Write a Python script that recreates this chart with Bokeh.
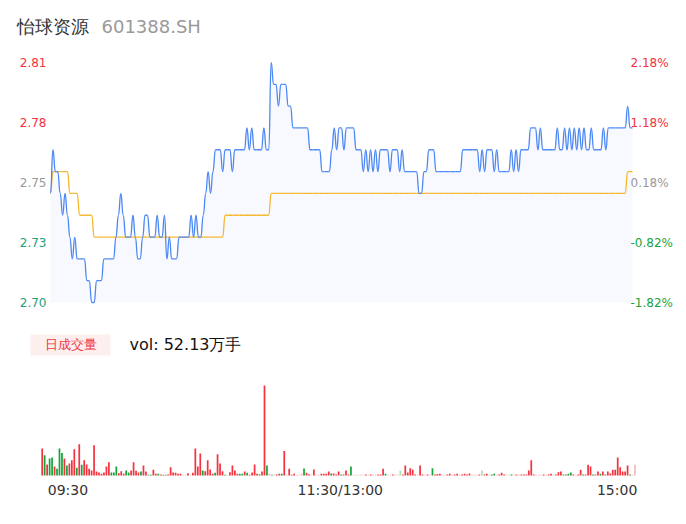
from bokeh.plotting import figure
from bokeh.layouts import column
from bokeh.models import Range1d
from bokeh.core.properties import value
from bokeh.embed import file_html
from bokeh.resources import INLINE

# ---------------- data ----------------
stock_name = "怡球资源"
stock_code = "601388.SH"
prev_close = 2.75
price_ticks = [2.70, 2.7275, 2.755, 2.7825, 2.81]
price_labels = ["2.70", "2.73", "2.75", "2.78", "2.81"]
pct_labels = ["-1.82%", "-0.82%", "0.18%", "1.18%", "2.18%"]
vol_badge = "日成交量"
vol_total_label = "vol: 52.13万手"
time_labels = ["09:30", "11:30/13:00", "15:00"]
time_label_idx = [0, 120, 240]

# minute prices 09:30 .. 15:00 (241 points)
price = [
    2.75, 2.77, 2.76, 2.76, 2.75, 2.74, 2.75, 2.74, 2.73, 2.72,
    2.73, 2.72, 2.72, 2.72, 2.72, 2.71, 2.71, 2.70, 2.70, 2.71,
    2.71, 2.71, 2.72, 2.72, 2.72, 2.72, 2.72, 2.73, 2.74, 2.75,
    2.74, 2.73, 2.73, 2.73, 2.74, 2.73, 2.72, 2.72, 2.73, 2.74,
    2.74, 2.73, 2.73, 2.73, 2.74, 2.73, 2.73, 2.74, 2.72, 2.73,
    2.72, 2.72, 2.72, 2.73, 2.73, 2.73, 2.73, 2.73, 2.74, 2.73,
    2.74, 2.73, 2.73, 2.74, 2.75, 2.76, 2.75, 2.76, 2.77, 2.77,
    2.77, 2.76, 2.77, 2.77, 2.77, 2.76, 2.77, 2.77, 2.77, 2.77,
    2.77, 2.78, 2.77, 2.78, 2.77, 2.77, 2.77, 2.77, 2.78, 2.77,
    2.77, 2.81, 2.80, 2.80, 2.79, 2.80, 2.80, 2.80, 2.79, 2.79,
    2.78, 2.78, 2.78, 2.78, 2.78, 2.78, 2.78, 2.77, 2.77, 2.77,
    2.77, 2.77, 2.76, 2.76, 2.76, 2.76, 2.77, 2.78, 2.77, 2.78,
    2.78, 2.77, 2.78, 2.78, 2.78, 2.78, 2.77, 2.77, 2.77, 2.76,
    2.77, 2.76, 2.77, 2.76, 2.77, 2.76, 2.77, 2.77, 2.77, 2.77,
    2.76, 2.77, 2.77, 2.77, 2.76, 2.77, 2.76, 2.76, 2.76, 2.76,
    2.76, 2.76, 2.75, 2.75, 2.76, 2.76, 2.77, 2.77, 2.77, 2.76,
    2.76, 2.76, 2.76, 2.76, 2.76, 2.76, 2.76, 2.76, 2.76, 2.76,
    2.77, 2.77, 2.77, 2.77, 2.77, 2.77, 2.77, 2.76, 2.77, 2.76,
    2.77, 2.77, 2.77, 2.76, 2.77, 2.76, 2.76, 2.76, 2.76, 2.76,
    2.77, 2.76, 2.77, 2.76, 2.77, 2.77, 2.77, 2.77, 2.78, 2.78,
    2.78, 2.77, 2.78, 2.77, 2.77, 2.77, 2.77, 2.77, 2.77, 2.78,
    2.77, 2.77, 2.78, 2.77, 2.78, 2.77, 2.78, 2.77, 2.78, 2.77,
    2.78, 2.77, 2.77, 2.78, 2.77, 2.77, 2.77, 2.77, 2.78, 2.77,
    2.78, 2.78, 2.78, 2.78, 2.78, 2.78, 2.78, 2.78, 2.79, 2.78,
    2.78,
]

# running average price (as displayed, 2 decimals)
avg_price = [
    2.75, 2.76, 2.76, 2.76, 2.76, 2.76, 2.76, 2.76, 2.75, 2.75,
    2.75, 2.75, 2.74, 2.74, 2.74, 2.74, 2.74, 2.74, 2.73, 2.73,
    2.73, 2.73, 2.73, 2.73, 2.73, 2.73, 2.73, 2.73, 2.73, 2.73,
    2.73, 2.73, 2.73, 2.73, 2.73, 2.73, 2.73, 2.73, 2.73, 2.73,
    2.73, 2.73, 2.73, 2.73, 2.73, 2.73, 2.73, 2.73, 2.73, 2.73,
    2.73, 2.73, 2.73, 2.73, 2.73, 2.73, 2.73, 2.73, 2.73, 2.73,
    2.73, 2.73, 2.73, 2.73, 2.73, 2.73, 2.73, 2.73, 2.73, 2.73,
    2.73, 2.73, 2.74, 2.74, 2.74, 2.74, 2.74, 2.74, 2.74, 2.74,
    2.74, 2.74, 2.74, 2.74, 2.74, 2.74, 2.74, 2.74, 2.74, 2.74,
    2.74, 2.75, 2.75, 2.75, 2.75, 2.75, 2.75, 2.75, 2.75, 2.75,
    2.75, 2.75, 2.75, 2.75, 2.75, 2.75, 2.75, 2.75, 2.75, 2.75,
    2.75, 2.75, 2.75, 2.75, 2.75, 2.75, 2.75, 2.75, 2.75, 2.75,
    2.75, 2.75, 2.75, 2.75, 2.75, 2.75, 2.75, 2.75, 2.75, 2.75,
    2.75, 2.75, 2.75, 2.75, 2.75, 2.75, 2.75, 2.75, 2.75, 2.75,
    2.75, 2.75, 2.75, 2.75, 2.75, 2.75, 2.75, 2.75, 2.75, 2.75,
    2.75, 2.75, 2.75, 2.75, 2.75, 2.75, 2.75, 2.75, 2.75, 2.75,
    2.75, 2.75, 2.75, 2.75, 2.75, 2.75, 2.75, 2.75, 2.75, 2.75,
    2.75, 2.75, 2.75, 2.75, 2.75, 2.75, 2.75, 2.75, 2.75, 2.75,
    2.75, 2.75, 2.75, 2.75, 2.75, 2.75, 2.75, 2.75, 2.75, 2.75,
    2.75, 2.75, 2.75, 2.75, 2.75, 2.75, 2.75, 2.75, 2.75, 2.75,
    2.75, 2.75, 2.75, 2.75, 2.75, 2.75, 2.75, 2.75, 2.75, 2.75,
    2.75, 2.75, 2.75, 2.75, 2.75, 2.75, 2.75, 2.75, 2.75, 2.75,
    2.75, 2.75, 2.75, 2.75, 2.75, 2.75, 2.75, 2.75, 2.75, 2.75,
    2.75, 2.75, 2.75, 2.75, 2.75, 2.75, 2.75, 2.75, 2.76, 2.76,
    2.76,
]

# minute volume (百手)
volume = [
    107, 80, 44, 67, 71, 36, 27, 107, 89, 67,
    40, 47, 60, 104, 31, 124, 43, 60, 44, 27,
    20, 120, 16, 12, 7, 12, 36, 52, 12, 12,
    36, 9, 17, 7, 20, 12, 20, 52, 19, 12,
    16, 40, 16, 3, 3, 23, 7, 7, 4, 3,
    3, 4, 33, 12, 11, 7, 7, 3, 3, 9,
    3, 11, 107, 36, 87, 20, 17, 60, 24, 7,
    11, 84, 47, 17, 3, 3, 13, 40, 20, 7,
    7, 7, 16, 11, 3, 12, 44, 7, 5, 16,
    356, 40, 8, 3, 5, 4, 7, 7, 97, 3,
    27, 3, 7, 3, 3, 8, 28, 11, 5, 3,
    24, 3, 3, 7, 7, 7, 16, 8, 8, 4,
    16, 4, 4, 20, 4, 36, 3, 3, 3, 3,
    3, 4, 3, 4, 3, 3, 4, 4, 27, 7,
    3, 3, 4, 3, 3, 20, 4, 40, 12, 29,
    23, 4, 3, 40, 4, 3, 4, 3, 29, 4,
    6, 7, 3, 3, 4, 7, 3, 4, 7, 3,
    4, 7, 4, 8, 3, 3, 3, 4, 20, 4,
    7, 3, 4, 7, 3, 4, 11, 4, 3, 3,
    4, 3, 4, 3, 4, 4, 4, 20, 60, 4,
    3, 3, 3, 4, 3, 4, 7, 3, 4, 13,
    16, 4, 4, 7, 12, 4, 3, 4, 23, 4,
    4, 43, 36, 4, 4, 16, 7, 16, 4, 16,
    8, 23, 23, 71, 33, 16, 16, 40, 4, 3,
    43,
]

# bar colour class: r = up, g = down, lr / lg = light red / light green
vol_dir = [
    "r", "g", "r", "g", "g", "r", "g", "g", "g", "r",
    "g", "r", "r", "r", "g", "r", "g", "r", "r", "r",
    "r", "r", "r", "r", "r", "r", "r", "r", "g", "g",
    "g", "r", "r", "r", "g", "g", "r", "r", "r", "r",
    "g", "r", "r", "g", "g", "r", "r", "g", "r", "g",
    "r", "r", "r", "r", "r", "r", "r", "lr", "lr", "r",
    "lr", "r", "r", "r", "r", "g", "r", "r", "r", "r",
    "g", "r", "r", "r", "g", "lr", "r", "r", "r", "r",
    "g", "g", "r", "g", "r", "r", "r", "r", "g", "r",
    "r", "g", "lr", "g", "lr", "r", "r", "g", "r", "lr",
    "r", "r", "r", "lr", "lr", "lr", "g", "r", "r", "lr",
    "r", "lr", "lr", "r", "r", "r", "r", "g", "r", "r",
    "r", "g", "r", "r", "r", "g", "lr", "lr", "lg", "lr",
    "lr", "r", "lr", "r", "lr", "lr", "r", "r", "r", "g",
    "lr", "lr", "r", "lr", "lr", "lg", "r", "r", "r", "r",
    "r", "r", "lr", "r", "r", "lr", "r", "lr", "g", "r",
    "r", "r", "lr", "lr", "r", "r", "lr", "r", "r", "lr",
    "r", "r", "r", "r", "lr", "lr", "lr", "r", "lg", "r",
    "r", "lr", "g", "g", "lr", "r", "r", "r", "lr", "lg",
    "g", "lr", "r", "lr", "r", "r", "r", "r", "r", "r",
    "lr", "lr", "lr", "r", "lr", "r", "r", "lr", "r", "r",
    "r", "g", "r", "g", "g", "r", "lr", "r", "r", "g",
    "r", "r", "r", "g", "r", "r", "g", "r", "r", "r",
    "r", "r", "r", "r", "r", "r", "r", "r", "g", "lr",
    "lr",
]

assert len(price) == 241 and len(avg_price) == 241
assert len(volume) == 241 and len(vol_dir) == 241

# ---------------- style ----------------
FONT = value("DejaVu Sans")
RED = "#f2343f"
GREEN_L = "#22a27a"
GREEN_R = "#1aa33f"
GRAY = "#999999"
BLUE = "#4b87f5"
ORANGE = "#f6b62b"
FILL = "#f7f9fe"
DIR_COLOR = {"r": "#f5333f", "g": "#14a53a", "lr": "#f8b5b9", "lg": "#a9e0b8"}

W = 686   # canvas covers the full window width (page has no margin here)


def canvas(h, xr, yr):
    p = figure(width=W, height=h, x_range=xr, y_range=yr,
               output_backend="svg", toolbar_location=None,
               x_axis_location=None, y_axis_location=None,
               min_border=0, min_border_left=0, min_border_right=0,
               min_border_top=0, min_border_bottom=0)
    p.grid.visible = False
    p.outline_line_color = None
    p.background_fill_color = "white"
    p.border_fill_color = "white"
    return p


# ---------------- header ----------------
H_HEAD = 54
head = canvas(H_HEAD, Range1d(0, W), Range1d(0, H_HEAD))
head.text(x=[16], y=[28.2], text=[stock_name], text_font=FONT, text_font_size="18px",
          text_color="#333333", text_baseline="middle", text_align="left")
head.text(x=[101], y=[28.2], text=[stock_code], text_font=FONT, text_font_size="18px",
          text_color="#999999", text_baseline="middle", text_align="left")

# ---------------- price panel ----------------
H_PRICE = 264
FL, FW, FT, FH = 50, 582, 8, 240   # frame left/width/top/height inside this canvas
n = len(price)
idx = list(range(n))
px_i = FW / (n - 1)
y_lo, y_hi = price_ticks[0], price_ticks[-1]
px_y = FH / (y_hi - y_lo)
xr = Range1d(-FL / px_i, (n - 1) + (W - FL - FW) / px_i)
yr = Range1d(y_lo - (H_PRICE - FT - FH) / px_y, y_hi + FT / px_y)
pp = canvas(H_PRICE, xr, yr)

pp.varea(x=idx, y1=[y_lo] * n, y2=price, fill_color=FILL)


def smooth(p, xs, ys, color):
    x0, y0 = xs[:-1], ys[:-1]
    x1, y1 = xs[1:], ys[1:]
    p.bezier(x0=x0, y0=y0, x1=x1, y1=y1,
             cx0=[a + 0.5 for a in x0], cy0=y0,
             cx1=[b - 0.5 for b in x1], cy1=y1,
             line_color=color, line_width=1.3)


smooth(pp, idx, avg_price, ORANGE)
smooth(pp, idx, price, BLUE)

lcol, rcol = [], []
for t in price_ticks:
    pct = (t / prev_close - 1) * 100
    if pct > 0.5:
        lcol.append(RED); rcol.append(RED)
    elif pct < -0.5:
        lcol.append(GREEN_L); rcol.append(GREEN_R)
    else:
        lcol.append(GRAY); rcol.append(GRAY)

pp.text(x=[0] * len(price_ticks), y=price_ticks, text=price_labels, text_color=lcol,
        text_font=FONT, text_font_size="12px", text_align="right",
        text_baseline="middle", x_offset=-4)
pp.text(x=[n - 1] * len(price_ticks), y=price_ticks, text=pct_labels, text_color=rcol,
        text_font=FONT, text_font_size="12px", text_align="left",
        text_baseline="middle", x_offset=-2)

# ---------------- volume badge ----------------
H_BADGE = 52
badge = canvas(H_BADGE, Range1d(0, W), Range1d(0, H_BADGE))
badge.quad(left=[30], right=[110], bottom=[15], top=[36], fill_color="#fdefee", line_color=None)
badge.text(x=[70], y=[26.5], text=[vol_badge], text_font=FONT, text_font_size="13px",
           text_color=RED, text_align="center", text_baseline="middle")
badge.text(x=[129], y=[26.5], text=[vol_total_label], text_font=FONT, text_font_size="16px",
           text_color="#111111", text_align="left", text_baseline="middle")

# ---------------- volume panel ----------------
H_VOL = 154
bar_step = 2.47
first_bar = 41.7          # centre of first bar inside canvas
base_from_top, top_from_top = 105, 15
vmax = max(volume)
vpp = vmax / (base_from_top - top_from_top)
vx = Range1d(-first_bar / bar_step, (W - first_bar) / bar_step)
vy = Range1d(-(H_VOL - base_from_top) * vpp, vmax + top_from_top * vpp)
pv = canvas(H_VOL, vx, vy)
pv.vbar(x=idx, top=volume, bottom=0, width=0.7,
        fill_color=[DIR_COLOR[d] for d in vol_dir], line_color=None)

label_y = -14 * vpp
aligns = ["left", "center", "right"]
offs = [5.6, 1.7, 2.3]
for k in range(3):
    pv.text(x=[time_label_idx[k]], y=[label_y], text=[time_labels[k]], text_font=FONT,
            text_font_size="14px", text_color="#333333", text_align=aligns[k],
            text_baseline="middle", x_offset=offs[k])

layout = column(head, pp, badge, pv, spacing=0)
open("out.html", "w").write(file_html(layout, INLINE))
